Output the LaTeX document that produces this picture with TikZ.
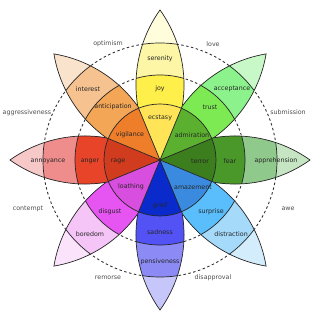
\documentclass[tikz,border=0pt]{standalone}
\usepackage{fontspec}
\setmainfont{DejaVu Sans}
\definecolor{yT}{HTML}{FFFDDC}\definecolor{yO}{HTML}{FDF6A6}\definecolor{yM}{HTML}{FFEF4A}\definecolor{yI}{HTML}{FFE458}
\definecolor{gT}{HTML}{C8F8C8}\definecolor{gO}{HTML}{8CF28C}\definecolor{gM}{HTML}{7DEA54}\definecolor{gI}{HTML}{5BB030}
\definecolor{fT}{HTML}{C6E6C3}\definecolor{fO}{HTML}{8FC98B}\definecolor{fM}{HTML}{4A982A}\definecolor{fI}{HTML}{3C7D1E}
\definecolor{sT}{HTML}{D4EDFC}\definecolor{sO}{HTML}{A6DAFA}\definecolor{sM}{HTML}{59BEFB}\definecolor{sI}{HTML}{3A8BDF}
\definecolor{bT}{HTML}{C6C6FA}\definecolor{bO}{HTML}{8C8BF5}\definecolor{bM}{HTML}{5352F5}\definecolor{bI}{HTML}{0A2ACC}
\definecolor{pT}{HTML}{FBE3FC}\definecolor{pO}{HTML}{F5C5F7}\definecolor{pM}{HTML}{E655F2}\definecolor{pI}{HTML}{D84EDE}
\definecolor{rT}{HTML}{F6C8C8}\definecolor{rO}{HTML}{EF8D8D}\definecolor{rM}{HTML}{E8442A}\definecolor{rI}{HTML}{D13C1E}
\definecolor{oT}{HTML}{FAE3CC}\definecolor{oO}{HTML}{F5C290}\definecolor{oM}{HTML}{F2A656}\definecolor{oI}{HTML}{EE7E2A}
\tikzset{
  edge/.style={draw=black!85,line width=0.7pt},
  ring/.style={draw=black!80,line width=0.9pt,dash pattern=on 2.5pt off 2.5pt},
  lbl/.style={font=\fontsize{6.3}{7}\selectfont,text=black!85,inner sep=0pt},
  outlbl/.style={font=\fontsize{6.3}{7}\selectfont,text=black!70,inner sep=0pt}
}
\newcommand\petalpath{(0,0) arc[start angle=125.5,end angle=54.5,radius=129.2pt] arc[start angle=-54.5,end angle=-125.5,radius=129.2pt] -- cycle}
\newcommand\drawpetal[4]{%
  \begin{scope}[rotate=#1]
    \begin{scope}
      \clip \petalpath;
      \fill[#2] (0,0) circle[radius=152pt];
      \fill[#3] (0,0) circle[radius=117pt];
      \fill[#4] (0,0) circle[radius=85pt];
      \draw[edge] (0,0) circle[radius=117pt] (0,0) circle[radius=85pt];
    \end{scope}
    \draw[edge] \petalpath;
  \end{scope}}
\newcommand\drawsector[2]{%
  \begin{scope}[rotate=#1]
    \fill[#2] (0,0) -- (-22.5:56pt) arc[start angle=-22.5,end angle=22.5,radius=56pt] -- cycle;
  \end{scope}}
\begin{document}
\begin{tikzpicture}[x=1pt,y=1pt]
\useasboundingbox (-160,-160) rectangle (159,160);
\draw[ring] (0,0) circle[radius=85pt];
\draw[ring] (0,0) circle[radius=117pt];
\drawpetal{90}{yT}{yO}{yM}
\drawpetal{45}{gT}{gO}{gM}
\drawpetal{0}{fT}{fO}{fM}
\drawpetal{-45}{sT}{sO}{sM}
\drawpetal{-90}{bT}{bO}{bM}
\drawpetal{-135}{pT}{pO}{pM}
\drawpetal{180}{rT}{rO}{rM}
\drawpetal{135}{oT}{oO}{oM}
\drawsector{90}{yI}
\drawsector{45}{gI}
\drawsector{0}{fI}
\drawsector{-45}{sI}
\drawsector{-90}{bI}
\drawsector{-135}{pI}
\drawsector{180}{rI}
\drawsector{135}{oI}
\draw[edge] (0,0) circle[radius=56pt];
\foreach \a in {22.5,67.5,...,337.5} \draw[edge] (0,0) -- (\a:56pt);
% petal labels
\node[lbl] (serenity) at (0,101) {serenity};
\node[lbl] (joy) at (0,71) {joy};
\node[lbl] (ecstasy) at (0,42) {ecstasy};
\node[lbl] (acceptance) at (72,71) {acceptance};
\node[lbl] (trust) at (50,53) {trust};
\node[lbl] (admiration) at (32,25) {admiration};
\node[lbl] (apprehension) at (116,-1) {apprehension};
\node[lbl] (fear) at (70,-1) {fear};
\node[lbl] (terror) at (40,-1) {terror};
\node[lbl] (distraction) at (71,-74) {distraction};
\node[lbl] (surprise) at (51,-52) {surprise};
\node[lbl] (amazement) at (33,-27) {amazement};
\node[lbl] (pensiveness) at (0,-102) {pensiveness};
\node[lbl] (sadness) at (0,-72) {sadness};
\node[lbl] (grief) at (0,-46) {grief};
\node[lbl] (boredom) at (-70,-74) {boredom};
\node[lbl] (disgust) at (-50,-52) {disgust};
\node[lbl] (loathing) at (-29,-27) {loathing};
\node[lbl] (annoyance) at (-112,-1) {annoyance};
\node[lbl] (anger) at (-70,-1) {anger};
\node[lbl] (rage) at (-42,-1) {rage};
\node[lbl] (interest) at (-72,71) {interest};
\node[lbl] (anticipation) at (-47,53) {anticipation};
\node[lbl] (vigilance) at (-30,25) {vigilance};
% dyad labels
\node[outlbl] (optimism) at (-52,116) {optimism};
\node[outlbl] (love) at (53,116) {love};
\node[outlbl] (submission) at (128,48) {submission};
\node[outlbl] (awe) at (128,-49) {awe};
\node[outlbl] (disapproval) at (53,-118) {disapproval};
\node[outlbl] (remorse) at (-52,-118) {remorse};
\node[outlbl] (contempt) at (-132,-49) {contempt};
\node[outlbl] (aggressiveness) at (-133,47) {aggressiveness};
\end{tikzpicture}
\end{document}
